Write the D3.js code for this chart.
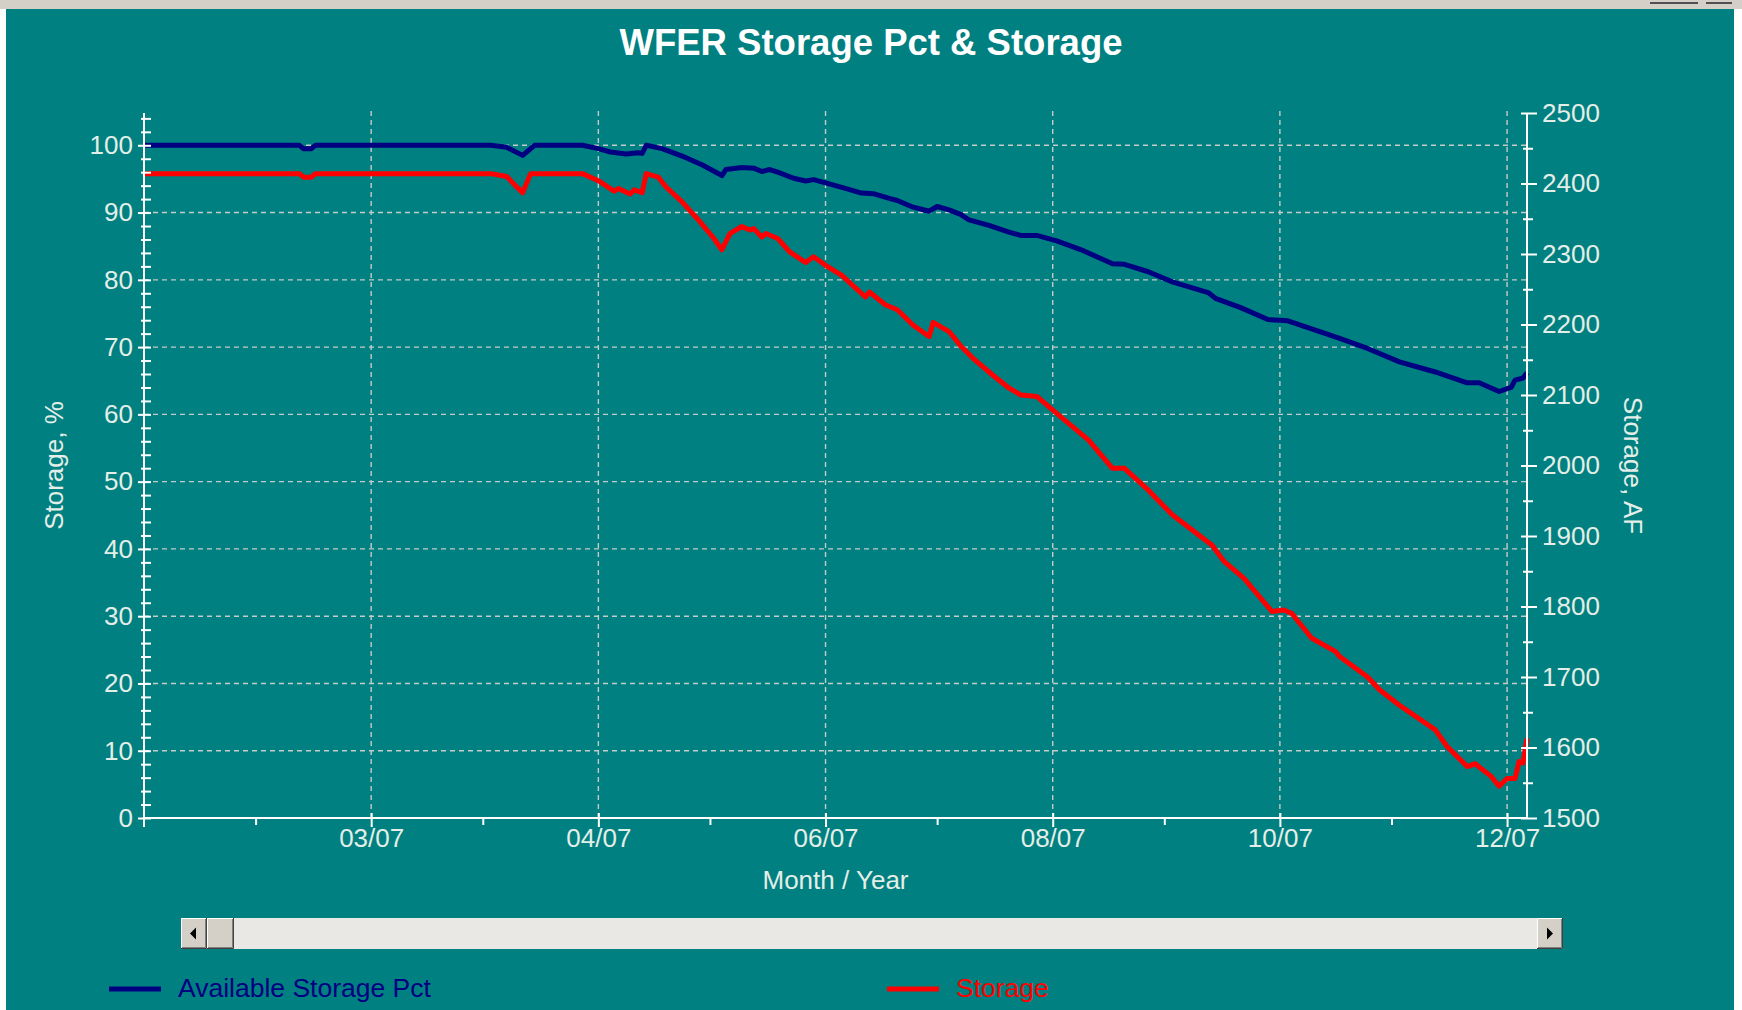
<!DOCTYPE html>
<html>
<head>
<meta charset="utf-8">
<script src="https://cdn.jsdelivr.net/npm/d3@7"></script>
<style>
  body { margin: 0; background: #ffffff; }
  svg { display: block; font-family: "Liberation Sans", Arial, sans-serif; }
</style>
</head>
<body>
<svg id="chart"></svg>
<script>
// Available storage, percent (left axis)
const pctSeries = [
    ["2007-01-04", 100.0], ["2007-02-12", 100.0], ["2007-02-13", 99.5], ["2007-02-15", 99.5],
    ["2007-02-16", 100.0], ["2007-04-01", 100.0], ["2007-04-05", 99.7], ["2007-04-09", 98.5],
    ["2007-04-12", 100.0], ["2007-04-24", 100.0], ["2007-04-28", 99.5], ["2007-05-01", 99.0],
    ["2007-05-05", 98.7], ["2007-05-08", 98.9], ["2007-05-09", 98.8], ["2007-05-10", 100.0],
    ["2007-05-14", 99.5], ["2007-05-19", 98.4], ["2007-05-24", 97.1], ["2007-05-29", 95.5],
    ["2007-05-30", 96.4], ["2007-06-03", 96.7], ["2007-06-06", 96.6], ["2007-06-08", 96.1],
    ["2007-06-10", 96.4], ["2007-06-12", 96.0], ["2007-06-16", 95.1], ["2007-06-19", 94.7],
    ["2007-06-21", 94.9], ["2007-06-24", 94.4], ["2007-06-29", 93.6], ["2007-07-03", 92.9],
    ["2007-07-06", 92.8], ["2007-07-10", 92.1], ["2007-07-12", 91.8], ["2007-07-16", 90.8],
    ["2007-07-20", 90.2], ["2007-07-22", 90.9], ["2007-07-25", 90.4], ["2007-07-28", 89.7],
    ["2007-07-30", 88.9], ["2007-08-04", 88.1], ["2007-08-09", 87.1], ["2007-08-12", 86.6],
    ["2007-08-16", 86.6], ["2007-08-21", 85.8], ["2007-08-27", 84.5], ["2007-09-04", 82.4],
    ["2007-09-07", 82.3], ["2007-09-13", 81.2], ["2007-09-19", 79.7], ["2007-09-28", 78.1],
    ["2007-09-30", 77.2], ["2007-10-06", 75.9], ["2007-10-13", 74.1], ["2007-10-18", 73.9],
    ["2007-10-26", 72.3], ["2007-10-31", 71.3], ["2007-11-07", 69.8], ["2007-11-15", 67.8],
    ["2007-11-24", 66.3], ["2007-12-02", 64.7], ["2007-12-05", 64.7], ["2007-12-10", 63.4],
    ["2007-12-13", 64.0], ["2007-12-14", 65.1], ["2007-12-16", 65.4], ["2007-12-17", 66.2]
];

// Storage, acre-feet (right axis)
const storageSeries = [
    ["2007-01-04", 2414], ["2007-02-12", 2414], ["2007-02-13", 2409], ["2007-02-15", 2409],
    ["2007-02-16", 2414], ["2007-04-01", 2414], ["2007-04-05", 2410], ["2007-04-07", 2398],
    ["2007-04-09", 2387], ["2007-04-11", 2414], ["2007-04-24", 2414], ["2007-04-28", 2404],
    ["2007-05-02", 2389], ["2007-05-03", 2393], ["2007-05-06", 2385], ["2007-05-07", 2391],
    ["2007-05-09", 2387], ["2007-05-10", 2414], ["2007-05-13", 2409], ["2007-05-15", 2395],
    ["2007-05-19", 2374], ["2007-05-23", 2349], ["2007-05-27", 2322], ["2007-05-29", 2306],
    ["2007-05-31", 2329], ["2007-06-03", 2339], ["2007-06-05", 2334], ["2007-06-06", 2336],
    ["2007-06-08", 2324], ["2007-06-09", 2329], ["2007-06-12", 2322], ["2007-06-15", 2303],
    ["2007-06-19", 2288], ["2007-06-21", 2296], ["2007-06-24", 2284], ["2007-06-28", 2270],
    ["2007-07-04", 2239], ["2007-07-05", 2246], ["2007-07-09", 2228], ["2007-07-12", 2221],
    ["2007-07-16", 2199], ["2007-07-20", 2183], ["2007-07-21", 2203], ["2007-07-25", 2190],
    ["2007-07-28", 2169], ["2007-07-31", 2152], ["2007-08-05", 2128], ["2007-08-09", 2110],
    ["2007-08-12", 2100], ["2007-08-16", 2098], ["2007-08-21", 2074], ["2007-08-29", 2036],
    ["2007-09-04", 1996], ["2007-09-07", 1996], ["2007-09-13", 1965], ["2007-09-19", 1930],
    ["2007-09-29", 1887], ["2007-10-02", 1864], ["2007-10-07", 1840], ["2007-10-14", 1793],
    ["2007-10-17", 1795], ["2007-10-19", 1790], ["2007-10-24", 1755], ["2007-10-30", 1736],
    ["2007-10-31", 1729], ["2007-11-07", 1700], ["2007-11-10", 1682], ["2007-11-15", 1660],
    ["2007-11-24", 1625], ["2007-11-27", 1601], ["2007-12-02", 1573], ["2007-12-04", 1577],
    ["2007-12-08", 1559], ["2007-12-10", 1545], ["2007-12-12", 1556], ["2007-12-14", 1556],
    ["2007-12-15", 1580], ["2007-12-16", 1578], ["2007-12-17", 1613]
];

const xDomain = ["2007-01-04", "2007-12-17"];
const xTickDates = ["2007-03-02", "2007-04-28", "2007-06-24", "2007-08-20", "2007-10-16", "2007-12-12"];
const xTickLabels = ["03/07", "04/07", "06/07", "08/07", "10/07", "12/07"];
const xMinorDates = ["2007-02-01", "2007-03-30", "2007-05-26", "2007-07-22", "2007-09-17", "2007-11-13"];

const pctDomain = [0, 104.8];
const pctTicks = [0, 10, 20, 30, 40, 50, 60, 70, 80, 90, 100];
const storageDomain = [1500, 2500];
const storageTicks = [1500, 1600, 1700, 1800, 1900, 2000, 2100, 2200, 2300, 2400, 2500];
const storageMinorTicks = [1550, 1650, 1750, 1850, 1950, 2050, 2150, 2250, 2350, 2450];

const parseDate = d3.utcParse("%Y-%m-%d");

class StorageChart {
    plot = { left: 144, right: 1527, top: 113, bottom: 818 }

    constructor(svg, width = 1742, height = 1010) {
        this.svg = svg;
        this.width = width;
        this.height = height;
        this.textColor = "#e4eee8";
        this.font = 26;
    }

    initialize() {
        this.svg = d3.select(this.svg)
            .attr("width", this.width)
            .attr("height", this.height);

        this.xScale = d3.scaleUtc().domain(xDomain.map(parseDate)).range([this.plot.left, this.plot.right]);
        this.pctScale = d3.scaleLinear().domain(pctDomain).range([this.plot.bottom, this.plot.top]);
        this.afScale = d3.scaleLinear().domain(storageDomain).range([this.plot.bottom, this.plot.top]);

        // window frame + teal panel
        this.svg.append("rect").attr("width", this.width).attr("height", this.height).attr("fill", "#ffffff");
        this.svg.append("rect")
            .attr("x", 6).attr("y", 9)
            .attr("width", 1728).attr("height", this.height - 9)
            .attr("fill", "#008080");
        this.svg.append("rect").attr("width", this.width).attr("height", 9).attr("fill", "#d4d0c8");
        this.svg.append("rect").attr("x", 1650).attr("y", 2).attr("width", 48).attr("height", 2).attr("fill", "#505050");
        this.svg.append("rect").attr("x", 1706).attr("y", 2).attr("width", 26).attr("height", 2).attr("fill", "#505050");

        this.grid = this.svg.append("g");
        this.container = this.svg.append("g");
        this.axes = this.svg.append("g");
        this.labels = this.svg.append("g");
    }

    styleAxis(g) {
        g.attr("font-family", null).attr("font-size", null);
        g.select(".domain").remove();
        g.selectAll(".tick line").attr("stroke", "#ffffff").attr("stroke-width", 2);
        g.selectAll(".tick text")
            .attr("fill", this.textColor)
            .style("font-size", this.font + "px");
    }

    update() {
        const p = this.plot;
        const x = this.xScale, yL = this.pctScale, yR = this.afScale;

        // dashed grid
        this.grid.selectAll(".hgrid")
            .data(pctTicks.filter(v => v > 0))
            .join("line")
            .attr("class", "hgrid")
            .attr("x1", p.left).attr("x2", p.right)
            .attr("y1", d => yL(d)).attr("y2", d => yL(d));
        this.grid.selectAll(".vgrid")
            .data(xTickDates.map(parseDate))
            .join("line")
            .attr("class", "vgrid")
            .attr("x1", d => x(d)).attr("x2", d => x(d))
            .attr("y1", p.top - 2).attr("y2", p.bottom);
        this.grid.selectAll("line")
            .attr("stroke", "#c4cbc8")
            .attr("stroke-width", 1.4)
            .attr("stroke-dasharray", "5,4");

        // series
        this.container.append("path")
            .datum(storageSeries)
            .attr("fill", "none")
            .attr("stroke", "#ff0000")
            .attr("stroke-width", 5)
            .attr("stroke-linejoin", "round")
            .attr("d", d3.line()
                .x(d => x(parseDate(d[0])))
                .y(d => yR(d[1]))
                .curve(d3.curveLinear));

        this.container.append("path")
            .datum(pctSeries)
            .attr("fill", "none")
            .attr("stroke", "#000080")
            .attr("stroke-width", 5)
            .attr("stroke-linejoin", "round")
            .attr("d", d3.line()
                .x(d => x(parseDate(d[0])))
                .y(d => yL(d[1]))
                .curve(d3.curveLinear));

        // left axis
        const left = this.axes.append("g")
            .attr("transform", `translate(${p.left},0)`)
            .call(d3.axisLeft(yL).tickValues(pctTicks).tickSizeInner(6).tickSizeOuter(0).tickPadding(5));
        this.styleAxis(left);
        left.selectAll(".tick line").attr("x1", 7);

        const leftMinor = this.axes.append("g")
            .attr("transform", `translate(${p.left},0)`)
            .call(d3.axisLeft(yL)
                .tickValues(d3.range(2, pctDomain[1], 2).filter(v => v % 10 !== 0))
                .tickSize(3).tickFormat(""));
        this.styleAxis(leftMinor);
        leftMinor.selectAll(".tick line").attr("x1", 7);

        // right axis
        const right = this.axes.append("g")
            .attr("transform", `translate(${p.right},0)`)
            .call(d3.axisRight(yR).tickValues(storageTicks).tickFormat(d3.format("d"))
                .tickSizeInner(10).tickSizeOuter(0).tickPadding(5));
        this.styleAxis(right);
        right.selectAll(".tick line").attr("x1", -6);

        const rightMinor = this.axes.append("g")
            .attr("transform", `translate(${p.right},0)`)
            .call(d3.axisRight(yR).tickValues(storageMinorTicks).tickSize(6).tickFormat(""));
        this.styleAxis(rightMinor);
        rightMinor.selectAll(".tick line").attr("x1", -4);

        // bottom axis
        const bottom = this.axes.append("g")
            .attr("transform", `translate(0,${p.bottom})`)
            .call(d3.axisBottom(x)
                .tickValues(xTickDates.map(parseDate))
                .tickFormat((d, i) => xTickLabels[i])
                .tickSizeInner(9).tickSizeOuter(0).tickPadding(2));
        this.styleAxis(bottom);
        bottom.selectAll(".tick line").attr("y1", -5);

        const bottomMinor = this.axes.append("g")
            .attr("transform", `translate(0,${p.bottom})`)
            .call(d3.axisBottom(x).tickValues(xMinorDates.map(parseDate)).tickSize(7).tickFormat(""));
        this.styleAxis(bottomMinor);

        // axis lines
        const axisLine = (x1, y1, x2, y2) => this.axes.append("line")
            .attr("x1", x1).attr("y1", y1).attr("x2", x2).attr("y2", y2)
            .attr("stroke", "#ffffff").attr("stroke-width", 2);
        axisLine(p.left, p.top, p.left, p.bottom + 9);
        axisLine(p.right, p.top, p.right, p.bottom);
        axisLine(p.left, p.bottom, p.right, p.bottom);

        // titles
        this.labels.append("text")
            .attr("x", 871).attr("y", 55)
            .attr("text-anchor", "middle")
            .attr("fill", "#ffffff")
            .style("font-size", "36.5px")
            .style("font-weight", "bold")
            .text("WFER Storage Pct & Storage");

        this.labels.append("text")
            .attr("x", (p.left + p.right) / 2).attr("y", 889)
            .attr("text-anchor", "middle")
            .attr("fill", this.textColor)
            .style("font-size", this.font + "px")
            .text("Month / Year");

        this.labels.append("text")
            .attr("transform", `translate(63,${(p.top + p.bottom) / 2}) rotate(-90)`)
            .attr("text-anchor", "middle")
            .attr("fill", this.textColor)
            .style("font-size", this.font + "px")
            .text("Storage, %");

        this.labels.append("text")
            .attr("transform", `translate(1624,${(p.top + p.bottom) / 2}) rotate(90)`)
            .attr("text-anchor", "middle")
            .attr("fill", this.textColor)
            .style("font-size", this.font + "px")
            .text("Storage, AF");

        this.drawScrollbar();
        this.drawLegend();
    }

    drawButton(g, bx, by, w, h) {
        g.append("rect").attr("x", bx).attr("y", by).attr("width", w).attr("height", h).attr("fill", "#d4d0c8");
        g.append("path").attr("d", `M${bx + 0.5},${by + h - 1}V${by + 0.5}H${bx + w - 1}`)
            .attr("fill", "none").attr("stroke", "#ffffff");
        g.append("path").attr("d", `M${bx + 1},${by + h - 1.5}H${bx + w - 1.5}V${by + 1}`)
            .attr("fill", "none").attr("stroke", "#808080");
        g.append("path").attr("d", `M${bx},${by + h - 0.5}H${bx + w - 0.5}V${by}`)
            .attr("fill", "none").attr("stroke", "#404040");
    }

    drawScrollbar() {
        const g = this.svg.append("g");
        const top = 918, h = 31, x0 = 181, x1 = 1563, bw = 26;
        g.append("rect").attr("x", x0).attr("y", top).attr("width", x1 - x0).attr("height", h).attr("fill", "#e9e8e4");
        this.drawButton(g, x0, top, bw, h);
        this.drawButton(g, x0 + bw, top, bw + 1, h);
        this.drawButton(g, x1 - bw, top, bw, h);
        const cy = top + h / 2;
        g.append("path").attr("d", `M${x0 + 9},${cy}L${x0 + 15},${cy - 6}V${cy + 6}Z`).attr("fill", "#000000");
        g.append("path").attr("d", `M${x1 - 10},${cy}L${x1 - 16},${cy - 6}V${cy + 6}Z`).attr("fill", "#000000");
    }

    drawLegend() {
        const items = [
            { name: "Available Storage Pct", color: "#000080", x: 109 },
            { name: "Storage", color: "#ff0000", x: 887 }
        ];
        const g = this.svg.append("g");
        const item = g.selectAll("g").data(items).join("g")
            .attr("transform", d => `translate(${d.x},989)`);
        item.append("line")
            .attr("x1", 0).attr("x2", 52)
            .attr("stroke", d => d.color)
            .attr("stroke-width", 5);
        item.append("text")
            .attr("x", 69).attr("y", 8)
            .attr("fill", d => d.color)
            .style("font-size", "26.5px")
            .text(d => d.name);
    }
}

const chart = new StorageChart(document.getElementById("chart"));
chart.initialize();
chart.update();
</script>
</body>
</html>
